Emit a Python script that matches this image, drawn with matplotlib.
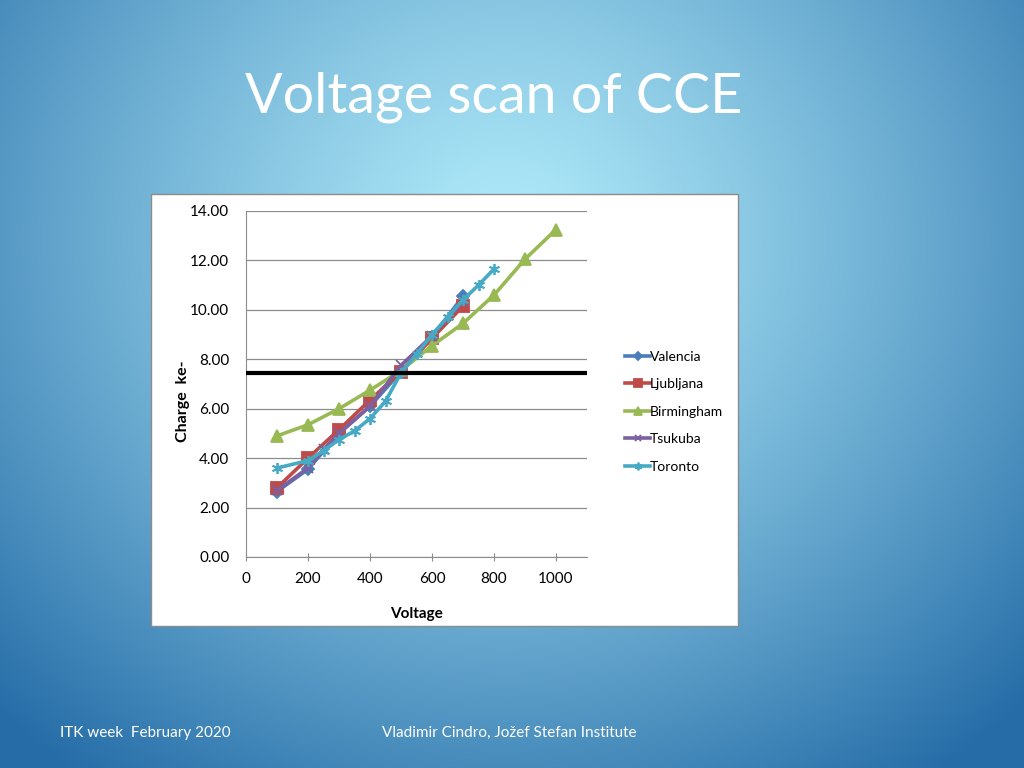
import numpy as np
import matplotlib as mpl
mpl.use('agg')
import matplotlib.pyplot as plt
from matplotlib.patches import Rectangle
from matplotlib.ticker import FormatStrFormatter

# data
valencia_v = [100, 200, 300, 400, 500, 600, 700]
valencia_q = [2.65, 3.55, 5.0, 6.1, 7.5, 8.9, 10.55]

ljubljana_v = [100, 200, 300, 400, 500, 600, 700]
ljubljana_q = [2.8, 4.0, 5.15, 6.35, 7.5, 8.85, 10.15]

birmingham_v = [100, 200, 300, 400, 500, 600, 700, 800, 900, 1000]
birmingham_q = [4.9, 5.35, 6.0, 6.75, 7.55, 8.55, 9.45, 10.6, 12.05, 13.25]

tsukuba_v = [100, 200, 250, 300, 400, 500, 600, 700]
tsukuba_q = [2.7, 3.6, 4.35, 5.0, 6.1, 7.75, 8.95, 10.35]

toronto_v = [100, 200, 250, 300, 350, 400, 450, 500, 550, 600, 650, 700, 750, 800]
toronto_q = [3.6, 3.9, 4.3, 4.75, 5.1, 5.6, 6.3, 7.45, 8.2, 9.0, 9.7, 10.4, 11.0, 11.65]

threshold = 7.45

series = [
    ('Valencia', valencia_v, valencia_q, '#4a7ebb', 'D', 6),
    ('Ljubljana', ljubljana_v, ljubljana_q, '#be4b48', 's', 8),
    ('Birmingham', birmingham_v, birmingham_q, '#98b954', '^', 8),
    ('Tsukuba', tsukuba_v, tsukuba_q, '#7d60a0', 'x', 7),
    ('Toronto', toronto_v, toronto_q, '#46aac5', (6, 2, 0), 8),
]

plt.rcParams['font.family'] = ['Lato', 'DejaVu Sans']

fig = plt.figure(figsize=(10.24, 7.68), dpi=100)

# slide background: radial blue gradient
bg = fig.add_axes([0, 0, 1, 1], zorder=-10)
yy, xx = np.mgrid[0:768, 0:1024]
r = np.sqrt(((xx - 505) / 720.0) ** 2 + ((yy - 240) / 660.0) ** 2)
r = np.clip(r, 0, 1) ** 1.2
c0 = np.array([0.69, 0.92, 0.98])
c1 = np.array([0.15, 0.43, 0.66])
img = c0[None, None, :] * (1 - r[..., None]) + c1[None, None, :] * r[..., None]
bg.imshow(img, aspect='auto', extent=[0, 1, 0, 1], origin='upper')
bg.set_xlim(0, 1)
bg.set_ylim(0, 1)
bg.axis('off')

# white chart box
bg.add_patch(Rectangle((151 / 1024, 1 - 626 / 768), (738 - 151) / 1024, (626 - 194) / 768,
                       facecolor='white', edgecolor='#8c8c8c', linewidth=1.0,
                       transform=bg.transAxes, zorder=2))

fig.text(494 / 1024, 1 - 97 / 768, 'Voltage scan of CCE', color='white',
         fontsize=40, ha='center', va='center')
fig.text(60 / 1024, 1 - 733 / 768, 'ITK week  February 2020', color='white',
         fontsize=11, ha='left', va='center')
fig.text(382 / 1024, 1 - 733 / 768, 'Vladimir Cindro, Jo\u017eef Stefan Institute',
         color='white', fontsize=11, ha='left', va='center')

ax = fig.add_axes([246 / 1024, 1 - 557 / 768, (587 - 246) / 1024, (557 - 211) / 768])
ax.set_facecolor('white')

for name, v, q, col, mk, ms in series:
    ax.plot(v, q, color=col, linewidth=2.6, marker=mk, markersize=ms,
            markerfacecolor=col, markeredgecolor=col, markeredgewidth=1.3,
            label=name, zorder=3)

ax.axhline(threshold, color='black', linewidth=3, zorder=4)

ax.set_xlim(0, 1100)
ax.set_ylim(0, 14)
ax.set_xticks([0, 200, 400, 600, 800, 1000])
ax.set_yticks(np.arange(0, 14.01, 2))
ax.yaxis.set_major_formatter(FormatStrFormatter('%.2f'))
ax.grid(axis='y', color='#8c8c8c', linewidth=0.9)
ax.set_axisbelow(True)
for s in ['top', 'right']:
    ax.spines[s].set_visible(False)
for s in ['left', 'bottom']:
    ax.spines[s].set_color('#8c8c8c')
ax.tick_params(axis='both', colors='#8c8c8c', labelcolor='black', labelsize=11,
               direction='inout', length=6)
ax.tick_params(axis='x', pad=8)
ax.tick_params(axis='y', length=0, pad=12)
ax.set_xlabel('Voltage', fontsize=11, fontweight='bold')
ax.xaxis.set_label_coords(0.5, -0.145)
ax.set_ylabel('Charge  ke-', fontsize=11.5, fontweight='bold')
ax.yaxis.set_label_coords(-0.165, 0.45)

ax.legend(loc='center left', bbox_to_anchor=(1.075, 0.42), frameon=False,
          fontsize=10, handlelength=1.8, handletextpad=0.0, labelspacing=1.12,
          markerscale=0.7)

fig.savefig('out.png', dpi=100)
